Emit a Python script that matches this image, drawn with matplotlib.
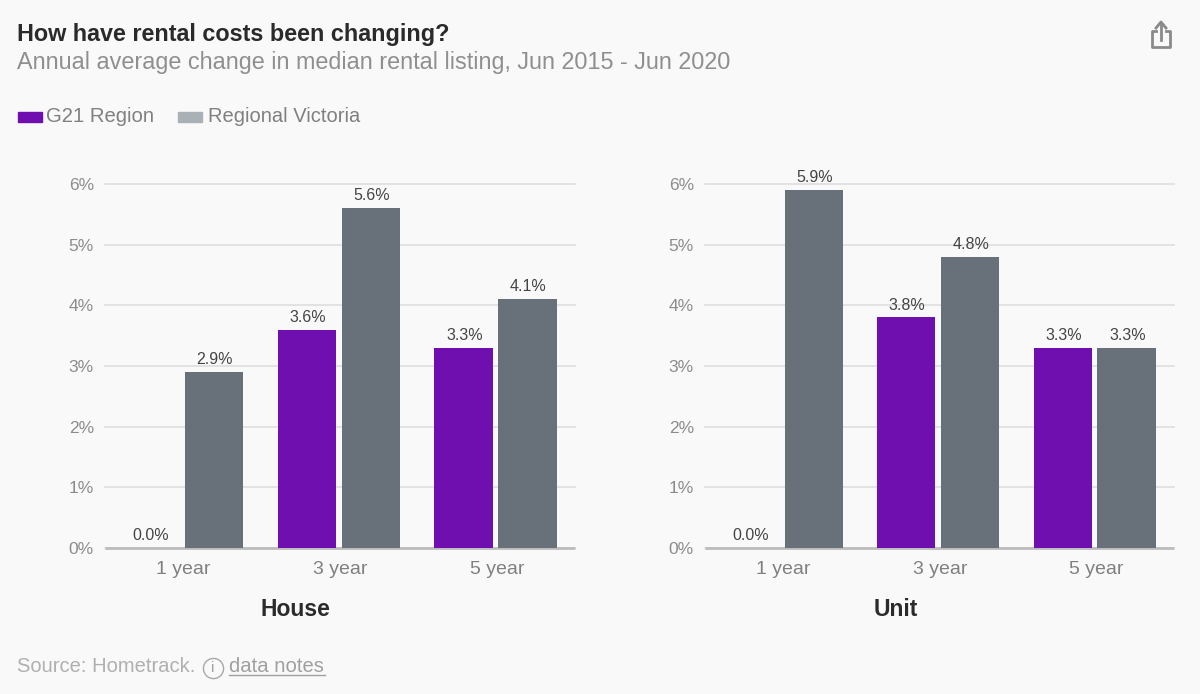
import matplotlib
matplotlib.use("Agg")
import matplotlib.pyplot as plt
import numpy as np
from matplotlib.lines import Line2D
from matplotlib.patches import Rectangle

plt.rcParams['font.family'] = ['Liberation Sans', 'DejaVu Sans']

# data
categories = ['1 year', '3 year', '5 year']
house_g21 = [0.0, 3.6, 3.3]
house_vic = [2.9, 5.6, 4.1]
unit_g21 = [0.0, 3.8, 3.3]
unit_vic = [5.9, 4.8, 3.3]
y_ticks = [0, 1, 2, 3, 4, 5, 6]

PURPLE = '#6f0fb0'
SLATE = '#68717a'
BG = '#f9f9f9'
W, H = 1200, 694

fig = plt.figure(figsize=(12, 6.94), dpi=100, facecolor=BG)


def px(x, y):
    return x / W, 1 - y / H


def panel(left, right, g21, vic, name, name_x):
    ax = fig.add_axes([left / W, 1 - 548 / H, (right - left) / W, 364 / H])
    ax.set_facecolor('none')
    x = np.arange(len(categories))
    bw = 0.372
    off = 0.204
    ax.bar(x - off, g21, bw, color=PURPLE, zorder=3)
    ax.bar(x + off, vic, bw, color=SLATE, zorder=3)
    for i in x:
        ax.text(i - off + 0.006, g21[i] + 0.08, f'{g21[i]:.1f}%', ha='center', va='bottom',
                fontsize=11.5, color='#444444', zorder=4)
        ax.text(i + off + 0.006, vic[i] + 0.08, f'{vic[i]:.1f}%', ha='center', va='bottom',
                fontsize=11.5, color='#444444', zorder=4)
    ax.set_xlim(-0.492, 2.508)
    ax.set_ylim(0, 6)
    ax.set_xticks(x + 0.01, categories)
    ax.set_yticks(y_ticks, [f'{t}%' for t in y_ticks])
    ax.tick_params(axis='x', length=0, pad=9, labelsize=14, labelcolor='#808080')
    ax.tick_params(axis='y', length=0, pad=8, labelsize=12.5, labelcolor='#8c8c8c')
    ax.grid(axis='y', color='#dedede', lw=1.2, zorder=0, clip_on=False)
    ax.set_axisbelow(True)
    for s in ['top', 'left', 'right']:
        ax.spines[s].set_visible(False)
    ax.spines['bottom'].set_color('#bcbcbc')
    ax.spines['bottom'].set_linewidth(2)
    ax.spines['bottom'].set_capstyle('butt')
    fig.text(*px(name_x, 610), name, fontsize=16.5, fontweight='bold', color='#2b2b2b',
             ha='center', va='center')
    return ax


panel(105, 575, house_g21, house_vic, 'House', 295)
panel(705, 1174, unit_g21, unit_vic, 'Unit', 896)

# headings
fig.text(*px(17, 34), 'How have rental costs been changing?', fontsize=16.8, fontweight='bold',
         color='#2a2a2a', va='center')
fig.text(*px(17, 62), 'Annual average change in median rental listing, Jun 2015 - Jun 2020',
         fontsize=16.82, color='#8f8f8f', va='center')

# legend
fig.add_artist(Rectangle(px(18, 122), 24 / W, 10 / H, transform=fig.transFigure, color=PURPLE))
fig.text(*px(46, 117), 'G21 Region', fontsize=14.6, color='#808080', va='center')
fig.add_artist(Rectangle(px(178, 122), 24 / W, 10 / H, transform=fig.transFigure, color='#a9b0b6'))
fig.text(*px(208, 117), 'Regional Victoria', fontsize=14.5, color='#808080', va='center')

# footer
fig.text(*px(17, 667), 'Source: Hometrack.', fontsize=14.5, color='#b0b0b0', va='center')
fig.add_artist(Line2D([213 / W], [1 - 668 / H], marker='o', ms=14.5, mfc='none', mec='#a8a8a8',
                      mew=1, ls='none'))
fig.text(*px(213, 668), 'i', fontsize=11, color='#a0a0a0', ha='center', va='center')
fig.text(*px(229, 667), 'data notes', fontsize=14.6, color='#a0a0a0', va='center')
fig.add_artist(Line2D([229 / W, 325 / W], [1 - 675 / H] * 2, color='#a0a0a0', lw=1))

# share icon
icon = '#8a8a8a'
xs = [1156, 1152, 1152, 1170, 1170, 1166]
ys = [31, 31, 47, 47, 31, 31]
fig.add_artist(Line2D([v / W for v in xs], [1 - v / H for v in ys], color=icon, lw=2))
fig.add_artist(Line2D([1161 / W] * 2, [1 - 40 / H, 1 - 23 / H], color=icon, lw=2))
fig.add_artist(Line2D([1156 / W, 1161 / W, 1166 / W],
                      [1 - 28 / H, 1 - 22 / H, 1 - 28 / H], color=icon, lw=2))

fig.savefig('out.png', dpi=100, facecolor=BG)
